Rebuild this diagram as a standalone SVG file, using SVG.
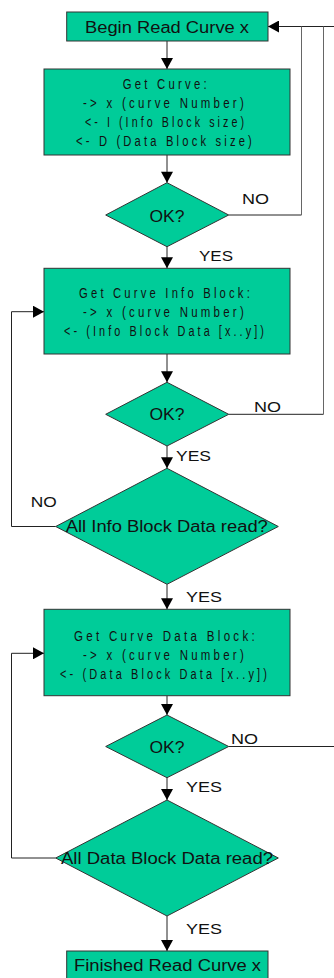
<svg xmlns="http://www.w3.org/2000/svg" width="334" height="978" viewBox="0 0 334 978">
<style>
.box{fill:#00CC99;stroke:#333;stroke-width:1}
.big{font-family:"Liberation Sans",Arial,sans-serif;font-size:16px;fill:#111;text-anchor:middle}
.lbl{font-family:"Liberation Sans",Arial,sans-serif;font-size:15px;fill:#111}
.sm{font-family:"Liberation Sans",Arial,sans-serif;font-size:14px;letter-spacing:4px;fill:#111;text-anchor:middle}
.c{fill:none;stroke:#222;stroke-width:1}
.g{fill:none;stroke:#666;stroke-width:1}
</style>
<defs>
<marker id="ah" markerUnits="userSpaceOnUse" markerWidth="12" markerHeight="12" viewBox="0 0 11 12" refX="11" refY="6" orient="auto">
<path d="M0,0 L11,6 L0,12 Z" fill="#000"/>
</marker>
</defs>
<g id="connectors">
<path class="c" d="M334,26.5 H268" marker-end="url(#ah)"/>
<path class="c" d="M167,41 V69" marker-end="url(#ah)"/>
<path class="c" d="M167,155 V182.7" marker-end="url(#ah)"/>
<path class="c" d="M167,246.7 V268.3" marker-end="url(#ah)"/>
<path class="c" d="M167,354 V382.3" marker-end="url(#ah)"/>
<path class="c" d="M167,446 V468.3" marker-end="url(#ah)"/>
<path class="c" d="M167,584.3 V609.3" marker-end="url(#ah)"/>
<path class="c" d="M167,695.7 V715" marker-end="url(#ah)"/>
<path class="c" d="M167,777.7 V800" marker-end="url(#ah)"/>
<path class="c" d="M167,916 V951" marker-end="url(#ah)"/>
<path class="c" d="M228.7,215 H301.5"/>
<path class="g" d="M301.5,215 V26.5"/>
<path class="c" d="M228.7,414.3 H323.5"/>
<path class="g" d="M323.5,414.3 V26.5"/>
<path class="c" d="M228.7,746.5 H334"/>
<path class="c" d="M55.7,526.5 H11.5 V311.7 H44" marker-end="url(#ah)"/>
<path class="c" d="M55.7,858 H11.5 V653.3 H44" marker-end="url(#ah)"/>
<text class="lbl" x="242" y="204" textLength="27" lengthAdjust="spacingAndGlyphs">NO</text>
<text class="lbl" x="199" y="260.7" textLength="34" lengthAdjust="spacingAndGlyphs">YES</text>
<text class="lbl" x="254" y="412" textLength="27" lengthAdjust="spacingAndGlyphs">NO</text>
<text class="lbl" x="176" y="460.7" textLength="35" lengthAdjust="spacingAndGlyphs">YES</text>
<text class="lbl" x="30.7" y="507.3" textLength="26" lengthAdjust="spacingAndGlyphs">NO</text>
<text class="lbl" x="186" y="602" textLength="36" lengthAdjust="spacingAndGlyphs">YES</text>
<text class="lbl" x="231" y="744" textLength="27" lengthAdjust="spacingAndGlyphs">NO</text>
<text class="lbl" x="186" y="792.3" textLength="36" lengthAdjust="spacingAndGlyphs">YES</text>
<text class="lbl" x="186" y="934.3" textLength="36" lengthAdjust="spacingAndGlyphs">YES</text>
</g>
<g id="begin">
<rect class="box" x="66.7" y="12" width="201.3" height="29"/>
<text class="big" x="167" y="32.5" textLength="164" lengthAdjust="spacingAndGlyphs">Begin Read Curve x</text>
</g>
<g id="get-curve">
<rect class="box" x="44" y="69" width="246" height="86"/>
<text class="sm" x="166.3" y="89" textLength="87" lengthAdjust="spacingAndGlyphs">Get Curve:</text>
<text class="sm" x="165" y="108" textLength="164" lengthAdjust="spacingAndGlyphs">-&gt; x (curve Number)</text>
<text class="sm" x="166" y="127" textLength="162" lengthAdjust="spacingAndGlyphs">&lt;- I (Info Block size)</text>
<text class="sm" x="165.5" y="146" textLength="179" lengthAdjust="spacingAndGlyphs">&lt;- D (Data Block size)</text>
</g>
<g id="ok1">
<polygon class="box" points="167,182.7 228.7,215 167,246.7 105.7,215"/>
<text class="big" x="167" y="221.7" textLength="35" lengthAdjust="spacingAndGlyphs">OK?</text>
</g>
<g id="get-info">
<rect class="box" x="44" y="268.3" width="246" height="85.7"/>
<text class="sm" x="166" y="298" textLength="174" lengthAdjust="spacingAndGlyphs">Get Curve Info Block:</text>
<text class="sm" x="165" y="317" textLength="164" lengthAdjust="spacingAndGlyphs">-&gt; x (curve Number)</text>
<text class="sm" x="165.5" y="336" textLength="203" lengthAdjust="spacingAndGlyphs">&lt;- (Info Block Data [x..y])</text>
</g>
<g id="ok2">
<polygon class="box" points="167,382.3 228.7,414.3 167,446 105.7,414.3"/>
<text class="big" x="167" y="420" textLength="35" lengthAdjust="spacingAndGlyphs">OK?</text>
</g>
<g id="all-info">
<polygon class="box" points="167,468.3 278.3,526.5 167,584.3 55.7,526.5"/>
<text class="big" x="166.8" y="532.3" textLength="202" lengthAdjust="spacingAndGlyphs">All Info Block Data read?</text>
</g>
<g id="get-data">
<rect class="box" x="44" y="609.3" width="246" height="86.4"/>
<text class="sm" x="166" y="640.7" textLength="184" lengthAdjust="spacingAndGlyphs">Get Curve Data Block:</text>
<text class="sm" x="165" y="659.7" textLength="164" lengthAdjust="spacingAndGlyphs">-&gt; x (curve Number)</text>
<text class="sm" x="165" y="678.7" textLength="210" lengthAdjust="spacingAndGlyphs">&lt;- (Data Block Data [x..y])</text>
</g>
<g id="ok3">
<polygon class="box" points="167,715 228.7,746.5 167,777.7 105.7,746.5"/>
<text class="big" x="167" y="752.7" textLength="35" lengthAdjust="spacingAndGlyphs">OK?</text>
</g>
<g id="all-data">
<polygon class="box" points="167,800 278.3,858 167,916 55.7,858"/>
<text class="big" x="167" y="864.3" textLength="212" lengthAdjust="spacingAndGlyphs">All Data Block Data read?</text>
</g>
<g id="finished">
<rect class="box" x="66.7" y="951" width="201.3" height="35"/>
<text class="big" x="167.5" y="970.7" textLength="187" lengthAdjust="spacingAndGlyphs">Finished Read Curve x</text>
</g>
</svg>
